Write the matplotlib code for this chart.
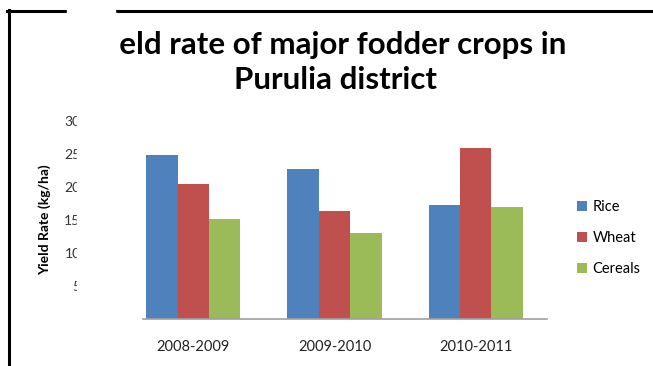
import matplotlib
matplotlib.use("Agg")
import matplotlib.pyplot as plt
import numpy as np
from matplotlib.patches import Rectangle
from matplotlib.lines import Line2D

plt.rcParams['font.family'] = ['Lato', 'DejaVu Sans']

############## data ##############################################################################
years = ["2008-2009", "2009-2010", "2010-2011"]
crops = ["Rice", "Wheat", "Cereals"]
rice = [24.9, 22.8, 17.3]
wheat = [20.4, 16.3, 25.9]
cereals = [15.2, 13.0, 17.0]
yticks = [5, 10, 15, 20, 25, 30]
colors = ["#4F81BD", "#C0504D", "#9BBB59"]

W, H = 653, 366
fig = plt.figure(figsize=(W / 100, H / 100), dpi=100)

def fx(px):
    return px / W

def fy(py):
    return 1 - py / H

############## bars ##############################################################################
ax = fig.add_axes([fx(143), fy(319), fx(547.3) - fx(143), fy(121) - fy(319)])
x = np.arange(len(years))
bw = 0.222
for i, (vals, name) in enumerate(zip([rice, wheat, cereals], crops)):
    ax.bar(x + (i - 1) * bw, vals, bw, color=colors[i], label=name, zorder=2)

ax.set_xlim(-0.356, 2.507)
ax.set_ylim(0, 30)
ax.set_xticks(x)
ax.set_xticklabels(years, fontsize=10.5, color="#222222")
ax.set_yticks(yticks)
ax.set_yticklabels([str(v) for v in yticks], fontsize=10, color="#333333")
ax.tick_params(axis="x", length=0, pad=15)
ax.tick_params(axis="y", length=0, pad=45)
for s in ["top", "right", "left"]:
    ax.spines[s].set_visible(False)
ax.spines["bottom"].set_color("#A0A0A0")
ax.spines["bottom"].set_linewidth(1.2)

ax.legend(loc="upper left", bbox_to_anchor=(1.04, 0.665), frameon=False, fontsize=10.5,
          handlelength=0.7, handleheight=0.7, handletextpad=0.4, labelspacing=1.15)

fig.text(fx(45), fy(220), "Yield Rate (kg/ha)", rotation=90, ha="center", va="center",
         fontsize=10, fontweight="bold")

fig.text(fx(329), fy(45), "Yield rate of major fodder crops in", ha="center", va="center",
         fontsize=22.5, fontweight="bold")
fig.text(fx(336), fy(80), "Purulia district", ha="center", va="center",
         fontsize=22.5, fontweight="bold")

############## frame and cover boxes ############################################################
fig.add_artist(Line2D([fx(7), fx(67)], [fy(11), fy(11)], color="black", lw=2.2))
fig.add_artist(Line2D([fx(115), fx(653)], [fy(11), fy(11)], color="black", lw=2.2))
fig.add_artist(Line2D([fx(9), fx(9)], [fy(10), fy(366)], color="black", lw=2.2))

fig.add_artist(Rectangle((fx(67), fy(9)), fx(115) - fx(67), fy(0) - fy(9),
                         transform=fig.transFigure, color="white", zorder=10))
fig.add_artist(Rectangle((fx(67), fy(62)), fx(117) - fx(67), fy(13) - fy(62),
                         transform=fig.transFigure, color="white", zorder=10))
fig.add_artist(Rectangle((fx(67), fy(13)), fx(115) - fx(67), fy(9) - fy(13),
                         transform=fig.transFigure, color="white", zorder=10))
fig.add_artist(Rectangle((fx(77), fy(300)), fx(142) - fx(77), fy(100) - fy(300),
                         transform=fig.transFigure, color="white", zorder=10))

fig.savefig("out.png", dpi=100)
